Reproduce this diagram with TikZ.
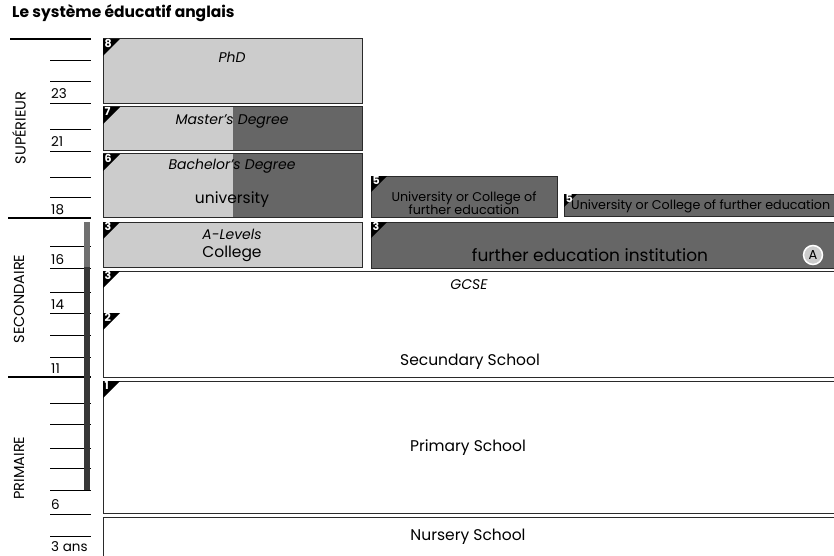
\documentclass[tikz,border=0pt]{standalone}
\usepackage{fontspec}
\setmainfont{Poppins}
\usepackage{tikz}
\usetikzlibrary{calc}
\definecolor{lightbox}{HTML}{CCCCCC}
\definecolor{darkbox}{HTML}{666666}
\definecolor{edgegray}{HTML}{2A2A2A}
\definecolor{barlight}{HTML}{707070}
\definecolor{bardark}{HTML}{383838}
\newcommand{\levelbadge}[4]{
	\fill[black] (#1,#2) -- ++(#3,0) -- ++(-#3,#3) -- cycle;
	\node[anchor=north west, inner sep=0, text=white, font=\bfseries\fontsize{11}{11}\selectfont] at ($(#1,#2)+(1.5,0.5)$) {#4};
}

\begin{document}
\begin{tikzpicture}[x=1pt,y=-1pt,
	stage/.style={draw=edgegray, line width=1pt},
	tick/.style={line width=0.6pt},
	sep/.style={line width=2pt},
	age/.style={anchor=base west, inner sep=0, font=\fontsize{13.5}{13.5}\selectfont},
	cyclename/.style={rotate=90, inner sep=0, font=\fontsize{14.5}{14.5}\selectfont},
	lbl/.style={inner sep=0, font=\fontsize{15.5}{15.5}\selectfont},
	deg/.style={inner sep=0, font=\itshape\fontsize{14}{14}\selectfont},
	small/.style={inner sep=0, align=center, font=\fontsize{12.7}{13.5}\selectfont}]
	\fill[white] (0,0) rectangle (834,556);
	\useasboundingbox (0,0) rectangle (834,556);

	\node[anchor=base west, inner sep=0, font=\bfseries\fontsize{15.5}{15.5}\selectfont] (title) at (12,18) {Le système éducatif anglais};

	% age scale
	\foreach \y in {60,81,103,129,151,177,197,246,268,292,313,335,357,403,424,448,468,490,514,536}
		\draw[tick] (50,\y) -- (91,\y);
	\draw[sep] (10,39) -- (91,39);
	\draw[sep] (8,218) -- (91,218);
	\draw[sep] (8,377) -- (91,377);
	\fill[barlight] (84,222) rectangle (90,267);
	\fill[bardark] (84,267) rectangle (90,490);

	\node[age] (a23) at (51,99) {23};
	\node[age] (a21) at (51,147) {21};
	\node[age] (a18) at (51,214) {18};
	\node[age] (a16) at (51,264) {16};
	\node[age] (a14) at (51,309) {14};
	\node[age] (a11) at (51,373) {11};
	\node[age] (a6) at (51,509) {6};
	\node[age] (a3) at (51,551) {3 ans};

	\node[cyclename] (sup) at (19,128) {SUPÉRIEUR};
	\node[cyclename] (sec) at (19,299) {SECONDAIRE};
	\node[cyclename] (pri) at (19,468) {PRIMAIRE};

	% university column
	\fill[lightbox] (103,39) rectangle (362,104);
	\draw[stage] (103,39) rectangle (362,104);
	\fill[lightbox] (103,107) rectangle (233,151);
	\fill[darkbox] (233,107) rectangle (362,151);
	\draw[stage] (103,107) rectangle (362,151);
	\fill[lightbox] (103,154) rectangle (233,217);
	\fill[darkbox] (233,154) rectangle (362,217);
	\draw[stage] (103,154) rectangle (362,217);
	\fill[lightbox] (103,222) rectangle (362,267);
	\draw[stage] (103,222) rectangle (362,267);

	\node[deg] (phd) at (232,57) {PhD};
	\node[deg] (master) at (232,122) {Master’s Degree};
	\node[deg] (bachelor) at (232,166) {Bachelor’s Degree};
	\node[lbl] (univ) at (232,200) {university};
	\node[deg] (alevels) at (232,234) {A-Levels};
	\node[lbl] (college) at (232,254) {College};

	% further education
	\fill[darkbox] (371,176) rectangle (557,217);
	\draw[stage] (371,176) rectangle (557,217);
	\fill[darkbox] (564,194) rectangle (840,216);
	\draw[stage] (564,194) rectangle (840,216);
	\fill[darkbox] (371,222) rectangle (840,268);
	\draw[stage] (371,222) rectangle (840,268);

	\node[small] (fe1) at (464,203) {University or College of\\further education};
	\node[small, anchor=west] (fe2) at (571,206) {University or College of further education};
	\node[inner sep=0, font=\fontsize{17}{17}\selectfont] (fei) at (590,255) {further education institution};
	\node[circle, fill=lightbox, draw=white, line width=1.5pt, minimum size=19pt, inner sep=0, font=\fontsize{13}{13}\selectfont] (mark) at (813,255) {A};

	% school
	\draw[stage] (103,271) rectangle (840,377);
	\draw[stage] (103,381) rectangle (840,513);
	\draw[stage] (103,517) rectangle (840,570);

	\node[deg] (gcse) at (469,285) {GCSE};
	\node[lbl] (secschool) at (470,362) {Secundary School};
	\node[lbl] (prischool) at (468,448) {Primary School};
	\node[lbl] (nursery) at (468,537) {Nursery School};

	\levelbadge{103}{39}{17}{8}
	\levelbadge{103}{107}{17}{7}
	\levelbadge{103}{154}{17}{6}
	\levelbadge{103}{222}{17}{3}
	\levelbadge{371}{176}{16}{5}
	\levelbadge{564}{194}{13}{5}
	\levelbadge{371}{222}{16}{3}
	\levelbadge{103}{271}{17}{3}
	\levelbadge{103}{313}{17}{2}
	\levelbadge{103}{381}{17}{1}
\end{tikzpicture}
\end{document}
